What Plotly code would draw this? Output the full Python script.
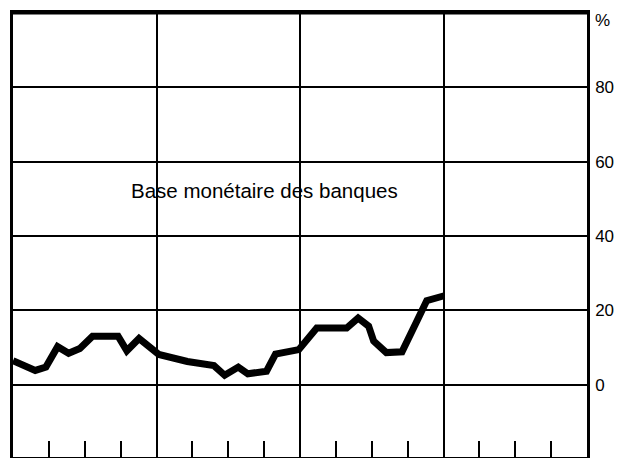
import plotly.graph_objects as go

# months from the left edge of the chart (4 years of 12 months)
months = [0, 1.86, 2.75, 3.73, 4.65, 5.59, 6.65, 8.79, 9.52, 10.54, 12.2,
          14.58, 16.8, 17.7, 18.84, 19.64, 21.2, 21.95, 23.9, 25.4, 27.9,
          28.86, 29.74, 30.16, 31.22, 32.53, 33.9, 34.6, 36.06]
base_monetaire = [6.4, 3.8, 4.7, 10.2, 8.4, 9.7, 13.0, 13.0, 9.1, 12.4, 8.1,
                  6.2, 5.1, 2.5, 4.7, 2.9, 3.6, 8.2, 9.4, 15.2, 15.2,
                  17.9, 15.7, 11.7, 8.6, 8.8, 17.9, 22.6, 23.9]

y_ticks = [0, 20, 40, 60, 80]
y_labels = ["0", "20", "40", "60", "80"]
quarter_ticks = [m for m in range(3, 48, 3) if m % 12 != 0]
year_lines = [12, 24, 36]

FONT = "Liberation Sans, Arial, Helvetica, sans-serif"

fig = go.Figure()
fig.add_trace(go.Scatter(x=months, y=base_monetaire, mode="lines",
                         line=dict(color="black", width=7),
                         hoverinfo="skip", showlegend=False))

fig.add_annotation(x=21.0, y=52.2, xref="x", yref="y",
                   text="Base monétaire des banques", showarrow=False,
                   font=dict(family=FONT, size=20.5, color="black"),
                   xanchor="center", yanchor="middle")
fig.add_annotation(x=1, y=98.0, xref="paper", yref="y", text="%",
                   showarrow=False, xanchor="left", yanchor="middle", xshift=6,
                   font=dict(family=FONT, size=17, color="black"))

# thick top edge of the frame
fig.add_shape(type="line", xref="paper", yref="paper", x0=0, x1=1, y0=1, y1=1,
              line=dict(color="black", width=3))

# the page body adds an 8px offset, so margins are tightened to compensate
fig.update_layout(
    width=637, height=458,
    margin=dict(l=5, r=58, t=2, b=9),
    paper_bgcolor="white", plot_bgcolor="white",
    xaxis=dict(range=[0, 48], tickvals=quarter_ticks, ticktext=[""] * len(quarter_ticks),
               ticks="inside", ticklen=16, tickwidth=1.5, tickcolor="black",
               showgrid=False, zeroline=False,
               showline=True, mirror=True, linecolor="black", linewidth=3,
               minor=dict(tickmode="array", tickvals=year_lines, showgrid=True,
                          gridcolor="black", gridwidth=1.5, ticks="")),
    yaxis=dict(range=[-19.5, 100], side="right", tickvals=y_ticks, ticktext=y_labels,
               ticks="", ticklabelstandoff=2,
               showgrid=True, gridcolor="black", gridwidth=1.5, zeroline=False,
               showline=True, mirror=True, linecolor="black", linewidth=2.5,
               tickfont=dict(family=FONT, size=17, color="black")),
)

fig.write_html("out.html")
